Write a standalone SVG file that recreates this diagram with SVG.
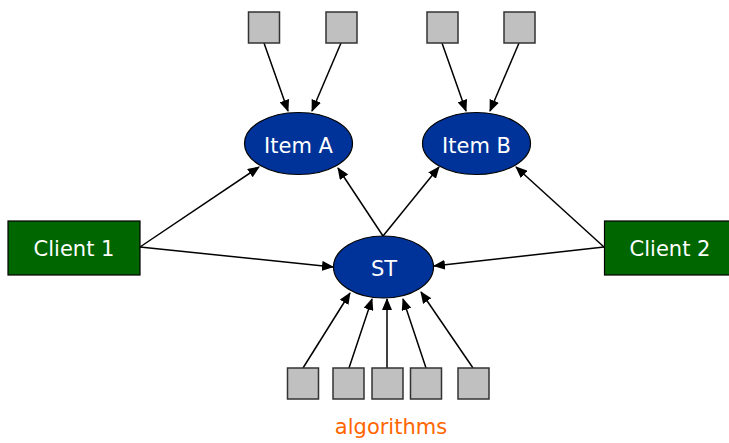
<svg xmlns="http://www.w3.org/2000/svg" width="729" height="443" viewBox="0 0 729 443">
<style>
.sq{fill:#c0c0c0;stroke:#333;stroke-width:1.5}
.el{fill:#003399;stroke:#000;stroke-width:1.2}
.cl{fill:#006600;stroke:#000;stroke-width:1.2}
.lbl{font-family:"DejaVu Sans",sans-serif;font-size:21px;fill:#fff;text-anchor:middle}
.ln{stroke:#000;stroke-width:1.5;fill:none;marker-end:url(#ah)}
</style>
<defs>
<marker id="ah" markerUnits="userSpaceOnUse" markerWidth="12" markerHeight="10" refX="11" refY="5" orient="auto">
<path d="M0,0 L12,5 L0,10 Z" fill="#000"/>
</marker>
</defs>
<rect width="729" height="443" fill="#fff"/>
<g id="connectors">
<line class="ln" x1="264" y1="43" x2="288" y2="111"/>
<line class="ln" x1="341" y1="43" x2="312" y2="111"/>
<line class="ln" x1="442" y1="43" x2="466" y2="111"/>
<line class="ln" x1="519" y1="43" x2="490" y2="111"/>
<line class="ln" x1="140" y1="247" x2="259" y2="167"/>
<line class="ln" x1="140" y1="247" x2="333" y2="267"/>
<line class="ln" x1="604" y1="247" x2="516" y2="167"/>
<line class="ln" x1="604" y1="247" x2="434" y2="266"/>
<line class="ln" x1="383" y1="236" x2="338" y2="168"/>
<line class="ln" x1="383" y1="236" x2="439" y2="167"/>
<line class="ln" x1="303" y1="368" x2="350" y2="293"/>
<line class="ln" x1="349" y1="368" x2="372" y2="299"/>
<line class="ln" x1="387" y1="368" x2="387" y2="299"/>
<line class="ln" x1="426" y1="368" x2="403" y2="299"/>
<line class="ln" x1="473" y1="368" x2="421" y2="292"/>
</g>
<g id="srcA1"><rect class="sq" x="248.5" y="12" width="31" height="31"/></g>
<g id="srcA2"><rect class="sq" x="326" y="12" width="31" height="31"/></g>
<g id="srcB1"><rect class="sq" x="427" y="12" width="31" height="31"/></g>
<g id="srcB2"><rect class="sq" x="504" y="12" width="31" height="31"/></g>
<g id="itemA"><ellipse class="el" cx="298.5" cy="143.5" rx="54" ry="31"/><text class="lbl" x="298.5" y="152.5">Item A</text></g>
<g id="itemB"><ellipse class="el" cx="476.5" cy="143.5" rx="54" ry="31"/><text class="lbl" x="476.5" y="152.5">Item B</text></g>
<g id="client1"><rect class="cl" x="8" y="221" width="132" height="54"/><text class="lbl" x="74" y="256">Client 1</text></g>
<g id="client2"><rect class="cl" x="604.5" y="221" width="130" height="54"/><text class="lbl" x="670" y="256">Client 2</text></g>
<g id="st"><ellipse class="el" cx="383.5" cy="267" rx="50" ry="31"/><text class="lbl" x="384" y="276">ST</text></g>
<g id="alg1"><rect class="sq" x="287.5" y="368" width="31" height="31"/></g>
<g id="alg2"><rect class="sq" x="333" y="368" width="31" height="31"/></g>
<g id="alg3"><rect class="sq" x="372" y="368" width="31" height="31"/></g>
<g id="alg4"><rect class="sq" x="410.5" y="368" width="31" height="31"/></g>
<g id="alg5"><rect class="sq" x="458" y="368" width="31" height="31"/></g>
<g id="algLabel"><text x="391" y="434" style="font-family:'DejaVu Sans',sans-serif;font-size:21px;fill:#ff6600;text-anchor:middle">algorithms</text></g>
</svg>
